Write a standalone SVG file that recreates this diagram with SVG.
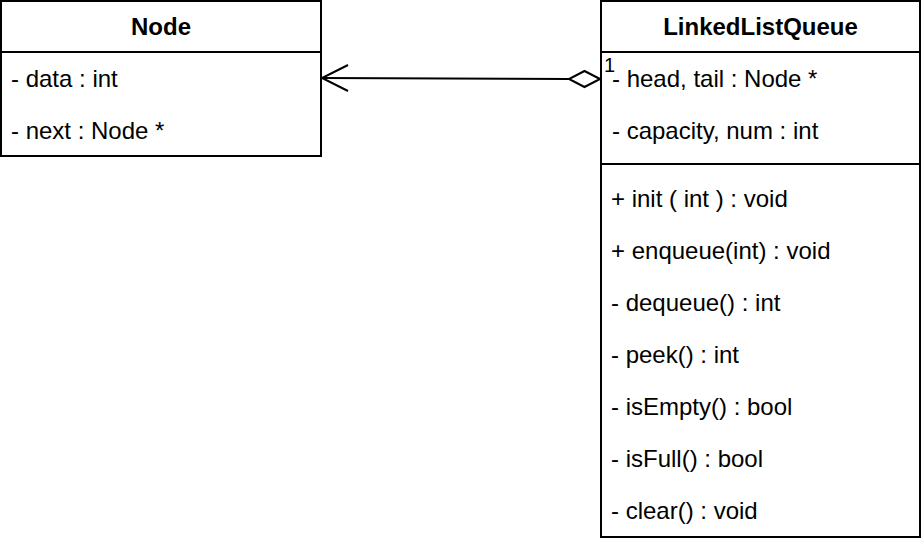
<svg xmlns="http://www.w3.org/2000/svg" width="922" height="544" viewBox="0 0 922 544">
<style>
.box{fill:#fff;stroke:#000;stroke-width:2}
.div{stroke:#000;stroke-width:2;fill:none}
.t{font-family:"Liberation Sans",Arial,sans-serif;font-size:24px;fill:#000}
.h{font-family:"Liberation Sans",Arial,sans-serif;font-size:24px;font-weight:bold;fill:#000;text-anchor:middle}
.lbl{font-family:"Liberation Sans",Arial,sans-serif;font-size:20px;fill:#000}
.edge{stroke:#000;stroke-width:2;fill:none}
</style>
<rect width="922" height="544" fill="#fff"/>
<g id="node-Node">
<rect class="box" x="1" y="1" width="320" height="155"/>
<line class="div" x1="1" y1="52" x2="321" y2="52"/>
<text class="h" x="161" y="35">Node</text>
<text class="t" x="11" y="87">- data : int</text>
<text class="t" x="11" y="139">- next : Node *</text>
</g>
<g id="node-LinkedListQueue">
<rect class="box" x="601" y="1" width="319" height="536"/>
<line class="div" x1="601" y1="52" x2="920" y2="52"/>
<line class="div" x1="601" y1="164" x2="920" y2="164"/>
<text class="h" x="760.5" y="35">LinkedListQueue</text>
<text class="t" x="612" y="87">- head, tail : Node *</text>
<text class="t" x="612" y="139">- capacity, num : int</text>
<text class="t" x="611" y="207">+ init ( int ) : void</text>
<text class="t" x="611" y="259">+ enqueue(int) : void</text>
<text class="t" x="611" y="311">- dequeue() : int</text>
<text class="t" x="611" y="363">- peek() : int</text>
<text class="t" x="611" y="415">- isEmpty() : bool</text>
<text class="t" x="611" y="467">- isFull() : bool</text>
<text class="t" x="611" y="519">- clear() : void</text>
</g>
<g id="connectors">
<line class="edge" x1="569" y1="79" x2="322" y2="78"/>
<polyline class="edge" points="348,65 322,78 348,91"/>
<polygon points="600,79 584.5,71 569,79 584.5,87" fill="#fff" stroke="#000" stroke-width="2"/>
<text class="lbl" x="604" y="72">1</text>
</g>
</svg>
